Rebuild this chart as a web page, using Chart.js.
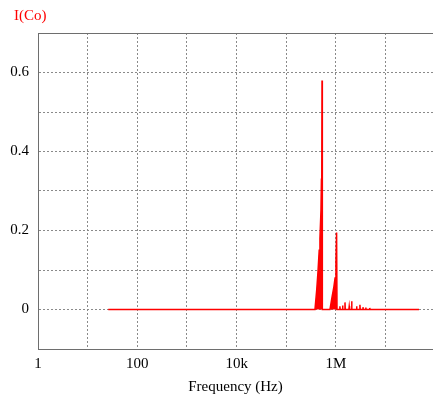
<!DOCTYPE html>
<html>
<head>
<meta charset="utf-8">
<script src="https://cdn.jsdelivr.net/npm/chart.js@4.4.0/dist/chart.umd.min.js"></script>
<style>
  html, body { margin: 0; padding: 0; background: #fff; }
  #wrap { width: 433px; height: 398px; }
</style>
</head>
<body>
<div id="wrap"><canvas id="myChart" width="433" height="398"></canvas></div>
<script>
// frequency (Hz) and current I(Co)
const freq = [
  26, 3.78e5, 4.1e5, 4.34e5, 4.6e5, 4.76e5, 4.99e5, 5.1e5, 5.18e5, 5.24e5, 5.32e5,
  7.57e5, 8.3e5, 9.1e5, 9.6e5, 1.0e6, 1.03e6, 1.05e6,
  1.18e6, 1.2e6, 1.22e6, 1.34e6, 1.36e6, 1.38e6, 1.5e6, 1.52e6, 1.54e6,
  1.82e6, 1.85e6, 1.88e6, 2.04e6, 2.07e6, 2.1e6, 2.58e6, 2.61e6, 2.64e6,
  3.0e6, 3.04e6, 3.08e6, 3.45e6, 3.5e6, 3.55e6, 3.95e6, 4.0e6, 4.05e6,
  4.75e6, 4.8e6, 4.85e6, 4.7e7
];
const current = [
  0, 0, 0.05, 0.094, 0.15, 0.18, 0.25, 0.33, 0.34, 0.58, 0,
  0, 0.03, 0.058, 0.08, 0.12, 0.195, 0,
  0, 0.008, 0, 0, 0.01, 0, 0, 0.018, 0,
  0, 0.008, 0, 0, 0.021, 0, 0, 0.008, 0,
  0, 0.012, 0, 0, 0.006, 0, 0, 0.005, 0,
  0, 0.004, 0, 0
];
const xGridTicks = [1, 10, 100, 1e3, 1e4, 1e5, 1e6, 1e7];
const xTickLabels = { 1: '1', 100: '100', 10000: '10k', 1000000: '1M' };
const yLabelTicks = [0, 0.2, 0.4, 0.6];

const serif = '"Liberation Serif", "Times New Roman", serif';
const gridColor = '#8a8a8a';

const topTitle = {
  id: 'topTitle',
  afterDraw(chart) {
    const ctx = chart.ctx;
    const a = chart.chartArea;
    ctx.save();
    // solid top frame line
    ctx.strokeStyle = '#6e6e6e';
    ctx.lineWidth = 1;
    ctx.beginPath();
    ctx.moveTo(a.left, a.top + 0.5);
    ctx.lineTo(a.right, a.top + 0.5);
    ctx.stroke();
    ctx.fillStyle = '#ff0000';
    ctx.font = '15px ' + serif;
    ctx.textBaseline = 'alphabetic';
    ctx.fillText('I(Co)', 14, 20);
    ctx.restore();
  }
};

new Chart(document.getElementById('myChart').getContext('2d'), {
  type: 'line',
  data: {
    datasets: [{
      label: 'I(Co)',
      data: freq.map((f, i) => ({ x: f, y: current[i] })),
      borderColor: '#ff0000',
      backgroundColor: '#ff0000',
      borderWidth: 1.5,
      pointRadius: 0,
      tension: 0,
      fill: 'origin'
    }]
  },
  options: {
    responsive: false,
    animation: false,
    layout: { padding: { top: 33, right: 0, left: 0, bottom: 0 } },
    plugins: { legend: { display: false }, tooltip: { enabled: false } },
    scales: {
      x: {
        type: 'logarithmic',
        min: 1,
        max: 9e7,
        afterBuildTicks(scale) { scale.ticks = xGridTicks.map(v => ({ value: v })); },
        afterFit(scale) { scale.height = 49; },
        grid: { color: gridColor, drawTicks: false, lineWidth: 1 },
        border: { color: '#6e6e6e', width: 1, dash: [2, 2] },
        ticks: {
          autoSkip: false,
          maxRotation: 0,
          padding: 6,
          color: '#000',
          font: { family: serif, size: 15 },
          callback: v => xTickLabels[v] || ''
        },
        title: {
          display: true,
          text: 'Frequency (Hz)',
          color: '#000',
          font: { family: serif, size: 15 },
          padding: { top: 0, bottom: 2 }
        }
      },
      y: {
        min: -0.1,
        max: 0.7,
        afterBuildTicks(scale) {
          const t = [];
          for (let i = -1; i <= 7; i++) t.push({ value: i / 10 });
          scale.ticks = t;
        },
        afterFit(scale) { scale.width = 38; },
        grid: { color: gridColor, drawTicks: false, lineWidth: 1 },
        border: { color: '#6e6e6e', width: 1, dash: [2, 2] },
        ticks: {
          padding: 9,
          color: '#000',
          font: { family: serif, size: 15 },
          callback: v => {
            const r = Math.round(v * 10) / 10;
            return yLabelTicks.includes(r) ? String(r) : '';
          }
        }
      }
    }
  },
  plugins: [topTitle]
});
</script>
</body>
</html>
